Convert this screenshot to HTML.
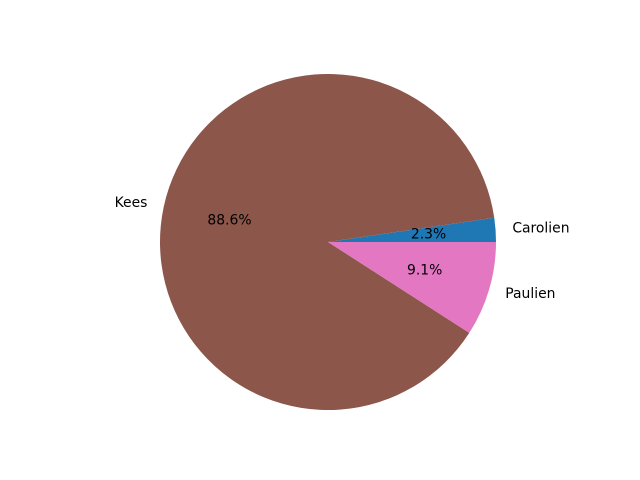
<!DOCTYPE html>
<html><head><meta charset="utf-8"><style>
html,body{margin:0;padding:0;background:#fff;}
svg{display:block;font-family:"DejaVu Sans","Liberation Sans",sans-serif;}
</style></head><body>
<svg id="chart" width="640" height="480" viewBox="0 0 640 480">
<rect width="640" height="480" fill="#fff"/>
<g id="slices"></g><g id="labels"></g>
</svg>
<script>
const categories = ["Carolien", "Kees", "Paulien"];
const values = [2.3, 88.6, 9.1];
const colors = ["#1f77b4", "#8c564b", "#e377c2"];
const cx = 328, cy = 242, r = 168;
const NS = "http://www.w3.org/2000/svg";
const total = values.reduce((a, b) => a + b, 0);
const sl = document.getElementById("slices"), lb = document.getElementById("labels");
function pt(a, rr) { return [cx + rr * Math.cos(a), cy - rr * Math.sin(a)]; }
let start = 0;
values.forEach((v, i) => {
  const frac = v / total, a0 = start * 2 * Math.PI, a1 = (start + frac) * 2 * Math.PI;
  const p0 = pt(a0, r), p1 = pt(a1, r), large = frac > 0.5 ? 1 : 0;
  const path = document.createElementNS(NS, "path");
  path.setAttribute("d", `M${cx},${cy} L${p0[0]},${p0[1]} A${r},${r} 0 ${large} 0 ${p1[0]},${p1[1]} Z`);
  path.setAttribute("fill", colors[i]);
  
  
  sl.appendChild(path);
  const am = (a0 + a1) / 2;
  const lp = pt(am, r * 1.1);
  const t = document.createElementNS(NS, "text");
  t.setAttribute("x", lp[0]); t.setAttribute("y", lp[1]);
  t.setAttribute("text-anchor", Math.cos(am) >= 0 ? "start" : "end");
  t.setAttribute("dominant-baseline", "central");
  t.setAttribute("font-size", "13.9");
  t.textContent = categories[i];
  
  
  lb.appendChild(t);
  const pp = pt(am, r * 0.6);
  const p = document.createElementNS(NS, "text");
  p.setAttribute("x", pp[0]); p.setAttribute("y", pp[1]);
  p.setAttribute("text-anchor", "middle");
  p.setAttribute("dominant-baseline", "central");
  p.setAttribute("font-size", "13.9");
  p.textContent = (frac * 100).toFixed(1) + "%";
  
  
  lb.appendChild(p);
  start += frac;
});
</script>
</body></html>
